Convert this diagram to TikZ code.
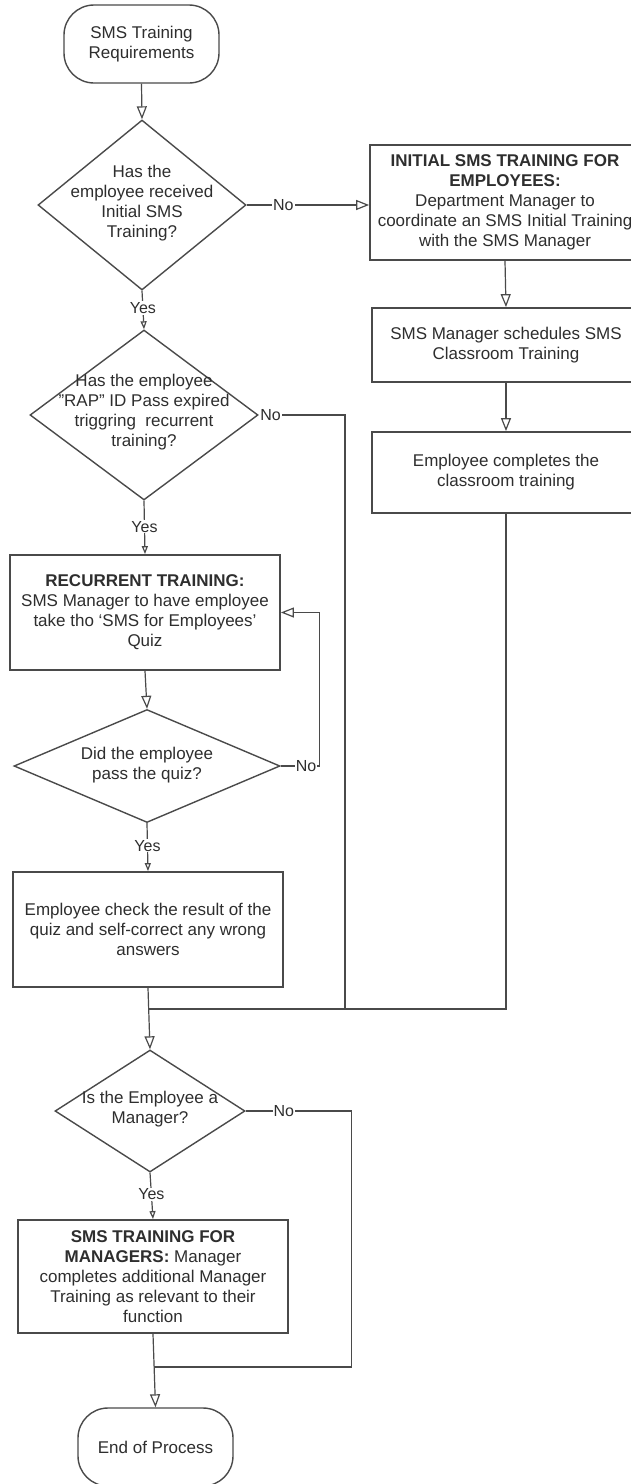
\documentclass[tikz,border=0pt]{standalone}
\usepackage{fontspec}
\setmainfont{Liberation Sans}
\usetikzlibrary{shapes.geometric,arrows.meta}
\definecolor{ln}{HTML}{4A4A4A}
\definecolor{tx}{HTML}{2E2E2E}
\begin{document}
\begin{tikzpicture}[x=1pt,y=-1pt,
  every node/.style={font=\fontsize{17}{20}\selectfont, text=tx},
  box/.style={draw=ln, line width=1.8pt, rectangle, inner sep=0pt, align=center},
  term/.style={draw=ln, line width=1.4pt, rectangle, rounded corners=30pt, minimum width=155pt, minimum height=78pt, align=center, inner sep=0pt},
  dec/.style={draw=ln, line width=1.4pt, diamond, inner sep=0pt},
  txt/.style={align=center, inner sep=0pt},
  conn/.style={draw=ln, line width=1.2pt},
  arr/.style={conn, -{Triangle[open, length=13pt, width=10pt]}},
  sarr/.style={conn, -{Triangle[open, length=8pt, width=6pt]}},
  lbl/.style={fill=white, inner sep=1pt, font=\fontsize{16}{18}\selectfont},
]
\fill[white] (0,0) rectangle (631,1484);
\useasboundingbox (0,0) rectangle (631,1484);

\node[term] (start) at (141.5,44) {SMS Training\\Requirements};

\node[dec, minimum width=208pt, minimum height=170pt] (d1) at (142,205) {};
\node[txt] (d1t) at (142,203) {Has the\\employee received\\Initial SMS\\Training?};

\node[box, minimum width=270pt, minimum height=115pt] (b1) at (505,202.5) {\textbf{INITIAL SMS TRAINING FOR}\\\textbf{EMPLOYEES:}\\Department Manager to\\coordinate an SMS Initial Training\\with the SMS Manager};
\node[box, minimum width=268pt, minimum height=74pt] (b2) at (506,345) {SMS Manager schedules SMS\\Classroom Training};
\node[box, minimum width=268pt, minimum height=81pt] (b3) at (506,472.5) {Employee completes the\\classroom training};

\node[dec, minimum width=228pt, minimum height=170pt] (d2) at (144,415) {};
\node[txt] (d2t) at (144,412.5) {Has the employee\\"RAP" ID Pass expired\\triggring\ \ recurrent\\training?};

\node[box, minimum width=270pt, minimum height=115pt] (rt) at (145,612.5) {\textbf{RECURRENT TRAINING:}\\SMS Manager to have employee\\take tho `SMS for Employees'\\Quiz};

\node[dec, minimum width=266pt, minimum height=113pt] (d3) at (147,766) {};
\node[txt] (d3t) at (147,765) {Did the employee\\pass the quiz?};

\node[box, minimum width=270pt, minimum height=115pt] (ec) at (148,929.5) {Employee check the result of the\\quiz and self-correct any wrong\\answers};

\node[dec, minimum width=190pt, minimum height=122pt] (d4) at (150,1111) {};
\node[txt] (d4t) at (150,1109) {Is the Employee a\\Manager?};

\node[box, minimum width=270pt, minimum height=113pt] (mg) at (153,1276.5) {\textbf{SMS TRAINING FOR}\\\textbf{MANAGERS:} Manager\\completes additional Manager\\Training as relevant to their\\function};

\node[term] (end) at (155.5,1447) {End of Process};

\coordinate (m1) at (149,1009);
\coordinate (r2) at (345,1009);
\coordinate (m2) at (154,1367);

\draw[arr] (start.south) -- (d1.north);
\draw[arr] (d1.east) -- node[lbl, pos=0.3]{No} (d1.east -| b1.west);
\draw[sarr] (d1.south) -- node[lbl, pos=0.45]{Yes} (d2.north);
\draw[arr] (b1.south) -- (b2.north);
\draw[arr] (b2.south) -- (b3.north);
\draw[sarr] (d2.south) -- node[lbl, pos=0.49]{Yes} (rt.north);
\draw[arr] (rt.south) -- (d3.north);
\draw[sarr] (d3.south) -- node[lbl, pos=0.47]{Yes} (ec.north);
\draw[arr] (ec.south) -- (d4.north);
\draw[conn] (d2.east) -| node[lbl, anchor=west, pos=0]{No} (r2) -- (m1);
\draw[conn] (b3.south) |- (m1);
\draw[arr] (d3.east) -- node[lbl, pos=0.65]{No} ++(39,0) |- (rt.east);
\draw[sarr] (d4.south) -- node[lbl, pos=0.47]{Yes} (mg.north);
\draw[conn] (d4.east) -- node[lbl, pos=0.36]{No} ++(106,0) |- (m2);
\draw[arr] (mg.south) -- (end.north);
\end{tikzpicture}
\end{document}
